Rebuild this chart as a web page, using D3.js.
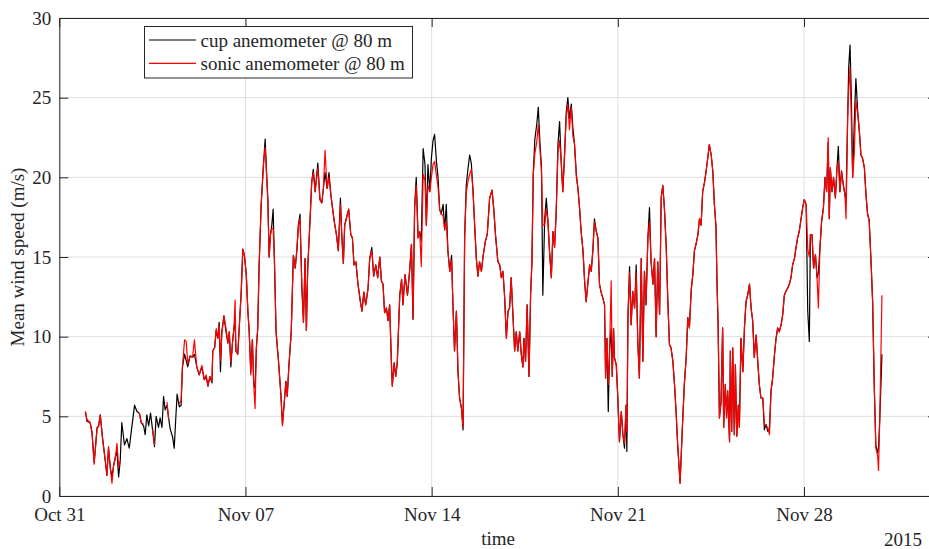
<!DOCTYPE html>
<html>
<head>
<meta charset="utf-8">
<script src="https://cdn.jsdelivr.net/npm/d3@7"></script>
<style>
  html, body { margin: 0; padding: 0; background: #fff; }
  svg { display: block; }
  svg text { font-family: "Liberation Serif", Tinos, "Times New Roman", "DejaVu Serif", serif; fill: #262626; }
</style>
</head>
<body>
<svg id="chart" width="929" height="549" font-family='"Liberation Serif", "Times New Roman", serif'></svg>
<script>
// Time stamps: days after 31 Oct 2015 00:00 (UTC)
const days = [
  0.98,1.04,1.16,1.23,1.31,1.42,1.48,1.54,1.63,1.73,1.79,1.85,1.92,1.98,2.04,2.10,2.17,2.23,2.29,
  2.35,2.45,2.54,2.63,2.71,2.83,2.92,3.01,3.08,3.17,3.23,3.29,3.36,3.43,3.51,3.58,3.64,3.73,3.79,3.86,3.92,3.98,
  4.05,4.11,4.17,4.26,4.32,4.38,4.43,4.51,4.58,4.63,4.71,4.77,4.83,4.92,5.01,5.08,5.17,5.26,5.36,5.45,5.52,5.59,5.66,5.74,5.77,5.84,5.90,5.96,
  6.01,6.06,6.11,6.19,6.26,6.34,6.39,6.45,6.51,6.57,6.61,6.64,6.71,6.76,6.84,6.90,6.96,
  7.03,7.09,7.14,7.20,7.26,7.31,7.36,7.41,7.46,7.51,7.59,7.68,7.74,7.79,7.84,7.89,7.94,7.99,
  8.04,8.09,8.15,8.24,8.33,8.39,8.45,8.52,8.57,8.63,8.72,8.80,8.87,8.93,8.99,
  9.05,9.12,9.18,9.24,9.29,9.34,9.43,9.49,9.55,9.62,9.72,9.80,9.87,9.93,9.99,
  10.07,10.14,10.21,10.27,10.34,10.42,10.49,10.57,10.62,10.68,10.73,10.79,10.88,10.96,
  11.02,11.08,11.15,11.23,11.32,11.38,11.45,11.52,11.61,11.67,11.75,11.82,11.90,11.97,
  12.05,12.11,12.17,12.23,12.30,12.36,12.42,12.49,12.52,12.59,12.65,12.71,12.80,12.87,12.92,
  13.00,13.09,13.17,13.24,13.30,13.36,13.42,13.49,13.55,13.61,13.68,13.75,13.80,13.86,13.93,13.99,
  14.05,14.11,14.18,14.24,14.30,14.36,14.43,14.49,14.55,14.61,14.68,14.75,14.80,14.86,14.93,14.99,
  15.05,15.12,15.18,15.24,15.30,15.37,15.43,15.49,15.55,15.62,15.68,15.74,15.80,15.87,15.93,
  16.02,16.09,16.18,16.27,16.34,16.40,16.49,16.56,16.62,16.68,16.74,16.81,16.87,16.93,16.99,
  17.06,17.12,17.18,17.24,17.31,17.37,17.43,17.47,17.53,17.59,17.66,17.72,17.77,17.82,17.88,17.95,
  18.01,18.07,18.13,18.18,18.25,18.31,18.37,18.43,18.50,18.56,18.62,18.68,18.75,18.81,18.87,18.93,
  19.00,19.06,19.12,19.18,19.25,19.31,19.37,19.44,19.50,19.56,19.62,19.69,19.75,19.81,19.87,19.94,
  20.00,20.06,20.12,20.19,20.25,20.31,20.37,20.44,20.50,20.54,20.59,20.64,20.69,20.75,20.79,20.84,20.87,20.94,
  21.00,21.06,21.13,21.19,21.25,21.31,21.34,21.38,21.44,21.50,21.56,21.63,21.69,21.75,21.81,21.88,21.94,
  22.00,22.06,22.13,22.19,22.25,22.32,22.38,22.44,22.50,22.57,22.63,22.69,22.75,22.82,22.88,22.94,
  23.00,23.07,23.13,23.19,23.25,23.34,23.42,23.50,23.57,23.63,23.69,23.76,23.82,23.88,23.94,
  24.01,24.07,24.13,24.19,24.26,24.32,24.38,24.44,24.51,24.57,24.63,24.69,24.73,24.77,24.82,24.88,24.94,24.98,
  25.04,25.09,25.13,25.20,25.23,25.28,25.32,25.38,25.42,25.47,25.53,25.57,25.63,25.70,25.76,25.82,25.88,25.95,
  26.01,26.07,26.13,26.20,26.26,26.32,26.38,26.45,26.51,26.57,26.64,26.70,26.76,26.82,26.89,26.95,
  27.01,27.07,27.14,27.20,27.26,27.32,27.39,27.45,27.51,27.57,27.64,27.70,27.76,27.82,27.89,27.95,
  28.01,28.08,28.14,28.20,28.24,28.30,28.36,28.43,28.49,28.54,28.60,28.66,28.73,28.79,28.85,28.91,28.95,28.99,
  29.05,29.11,29.18,29.24,29.29,29.35,29.41,29.48,29.54,29.58,29.64,29.68,29.73,29.78,29.83,29.89,29.95,
  30.02,30.08,30.14,30.20,30.27,30.33,30.39,30.45,30.52,30.58,30.64,30.70,30.77,30.80,30.85,30.93
];

// Cup anemometer, 80 m (m/s)
const cup = [
  5.3,4.7,4.6,4.0,2.1,4.3,4.4,5.1,3.6,2.2,1.3,3.0,1.75,1.2,1.9,2.4,2.8,1.2,2.2,
  4.6,3.2,3.6,3.0,4.1,5.7,5.3,5.2,4.6,4.4,3.85,5.1,4.4,5.2,4.1,3.1,5.0,4.3,4.9,4.3,6.25,5.4,
  5.7,4.9,4.2,3.7,3.0,4.9,6.4,5.6,5.7,8.1,8.9,8.5,8.1,8.8,8.7,8.9,8.1,7.6,8.1,7.3,7.5,6.9,7.5,7.1,9.1,9.3,10.4,9.9,
  10.9,7.8,10.3,11.3,10.4,9.6,10.3,8.1,9.6,10.6,11.0,9.1,8.9,10.4,12.8,15.5,15.1,
  13.9,11.6,10.3,7.8,9.8,7.0,6.8,9.3,10.5,14.3,18.3,20.9,22.4,20.4,18.7,15.0,16.4,17.0,
  18.0,14.6,10.3,8.5,6.4,4.5,5.7,7.2,6.25,8.1,10.3,15.1,14.3,15.4,17.0,
  17.7,13.1,10.9,14.9,10.4,14.3,17.4,19.7,20.5,19.1,20.9,18.6,18.4,19.3,20.3,
  19.3,20.3,18.9,18.1,17.2,16.4,15.4,18.7,16.4,14.6,17.0,17.4,18.0,16.4,
  16.2,14.5,14.7,13.3,12.2,11.6,12.8,12.0,13.05,14.9,15.6,13.8,14.5,13.7,
  15.0,13.5,13.3,11.5,11.8,11.0,12.0,8.2,6.9,8.35,7.5,8.45,12.6,13.6,12.0,
  13.9,12.6,14.1,15.8,11.1,18.1,20.0,16.2,16.6,16.0,21.8,20.8,17.0,20.8,19.1,21.2,
  22.3,22.7,21.0,20.0,18.0,17.7,18.3,16.7,18.3,15.4,14.1,15.1,12.0,9.1,11.6,7.8,
  6.15,5.5,4.15,16.2,19.5,20.6,21.4,20.9,19.3,16.9,14.9,13.8,14.7,14.1,15.0,
  16.0,16.4,18.7,19.2,17.9,16.4,14.7,14.5,13.7,14.1,12.6,9.9,11.6,11.8,13.7,
  11.2,9.1,10.3,9.1,10.3,8.9,8.1,9.9,8.45,12.0,7.5,12.6,14.7,20.2,22.4,23.3,
  24.4,22.2,20.6,12.6,17.4,18.7,17.3,15.4,13.7,16.6,15.6,17.7,22.1,23.5,21.0,19.1,
  21.6,24.1,25.0,23.7,24.6,23.1,22.1,20.2,19.3,18.1,16.6,15.4,13.5,12.2,13.3,14.5,
  14.1,15.4,17.4,16.6,16.2,13.3,12.8,12.4,12.0,7.4,9.9,5.3,9.1,10.5,7.5,10.5,8.7,8.25,
  6.15,3.4,5.3,3.85,3.0,5.7,2.8,11.2,14.4,10.75,12.85,11.8,14.5,9.7,7.4,14.9,8.45,
  14.1,12.0,16.2,18.1,14.7,13.3,14.9,10.0,14.7,11.4,18.7,19.5,18.1,15.6,12.2,9.5,
  9.3,8.45,7.0,5.3,3.2,0.8,4.05,7.0,8.7,11.2,10.55,12.95,13.9,15.4,15.8,
  16.4,17.4,17.0,19.1,19.7,20.4,21.2,22.05,21.4,20.4,18.3,16.9,13.3,10.75,4.9,5.9,10.55,4.3,
  7.0,4.9,6.6,3.4,9.1,4.05,9.3,3.85,8.25,3.75,5.7,4.3,9.9,7.8,10.55,12.2,12.6,13.3,
  11.8,11.0,8.7,10.1,8.45,7.0,6.15,6.15,4.15,4.5,4.05,4.2,6.6,7.4,8.9,9.9,
  10.55,10.3,10.75,11.4,12.6,12.85,13.05,13.3,13.7,14.5,14.9,15.6,16.2,16.6,17.4,18.1,
  18.6,18.3,11.6,9.7,16.4,16.4,14.3,15.15,13.7,14.0,15.6,17.2,18.1,20.0,19.1,22.2,17.4,20.6,
  19.1,20.0,18.7,20.6,21.95,19.1,20.4,19.5,18.9,18.5,23.7,26.9,28.3,25.0,20.0,23.5,26.2,
  24.1,22.9,21.4,21.2,20.6,18.9,17.7,17.3,14.7,12.2,7.0,3.2,2.7,3.0,4.9,8.9
];

// Sonic anemometer, 80 m (m/s); null where no sonic record
const sonic = [
  5.3,4.8,4.6,4.0,2.0,4.2,4.4,5.1,3.5,2.2,1.3,3.1,1.7,0.8,1.9,2.3,3.3,1.8,2.2,
  null,null,null,null,null,null,null,5.2,4.6,4.5,null,null,null,null,4.2,3.2,null,null,null,null,null,null,
  5.9,4.8,null,null,null,null,null,5.8,6.0,8.1,9.8,9.7,8.3,8.8,8.7,9.8,8.1,7.6,8.2,7.3,7.6,6.9,7.5,7.2,9.1,9.3,10.5,9.9,
  10.7,8.5,10.2,11.3,10.6,9.6,10.3,8.4,9.6,10.6,12.3,9.1,8.9,10.4,12.8,15.5,15.1,
  13.9,11.6,10.3,7.6,9.8,7.0,5.5,9.3,10.5,14.3,18.3,20.9,21.9,20.2,18.5,15.0,16.4,16.8,
  16.8,14.8,10.3,8.5,6.4,4.4,5.7,7.2,6.25,8.1,10.3,15.1,14.3,15.4,17.0,
  17.4,13.1,10.9,14.9,10.4,14.3,17.4,19.7,20.3,19.1,20.6,18.6,18.4,19.3,21.7,
  19.3,20.0,18.9,18.1,17.2,16.4,15.4,18.3,16.4,14.6,17.0,17.4,18.0,16.4,
  16.2,14.5,14.7,13.3,12.2,11.6,12.8,12.0,13.05,14.9,15.4,13.8,14.5,13.7,
  15.0,13.5,13.3,11.5,11.8,11.0,12.0,8.2,6.9,8.35,7.5,8.45,12.6,13.6,12.0,
  13.9,12.6,14.1,15.8,11.1,18.1,19.5,16.2,16.6,14.4,20.2,19.8,17.0,19.5,19.1,20.0,
  20.8,21.0,20.1,19.4,18.0,17.7,17.6,16.7,17.2,15.4,14.1,14.8,12.0,9.1,11.6,7.8,
  6.15,5.5,4.3,16.2,19.0,19.8,20.2,20.5,19.3,16.9,14.9,13.8,14.7,14.1,15.0,
  16.0,16.4,18.7,19.2,17.9,16.4,14.7,14.5,13.7,14.1,12.6,9.9,11.6,11.8,13.7,
  11.2,9.1,10.3,9.1,10.3,8.9,8.1,9.9,8.45,12.0,7.5,12.6,14.7,20.2,21.5,22.2,
  23.3,21.8,20.3,17.0,17.0,18.0,17.3,15.4,13.7,16.6,15.6,17.7,21.6,22.3,21.0,19.1,
  21.4,23.8,24.6,23.0,24.4,22.6,22.1,20.0,19.3,18.1,16.6,15.4,13.5,12.2,13.3,14.5,
  14.1,15.4,17.2,16.6,16.2,13.3,12.8,12.4,12.0,7.4,9.9,7.0,9.1,13.5,7.5,10.5,8.7,8.25,
  6.15,3.4,5.3,3.85,3.3,5.7,4.0,11.2,14.0,10.75,12.85,11.8,14.0,9.7,7.4,14.9,8.45,
  14.1,12.0,16.2,17.2,14.7,13.3,14.9,10.0,14.7,11.4,18.7,19.5,18.1,15.6,12.2,9.5,
  9.3,8.45,7.0,5.3,3.2,0.8,4.05,7.0,8.7,11.2,10.55,12.95,13.9,15.4,15.8,
  16.4,17.4,17.0,19.1,19.7,20.4,21.2,22.05,21.4,20.4,18.3,16.9,13.3,10.75,4.9,5.9,10.55,4.3,
  7.0,4.9,6.6,3.4,9.1,4.05,9.3,3.85,8.25,3.75,5.7,4.3,9.9,7.8,10.55,12.2,12.6,13.3,
  11.8,11.0,8.7,10.1,8.45,7.0,6.15,6.15,4.5,4.4,4.3,3.85,6.6,7.4,8.9,9.9,
  10.55,10.3,10.75,11.4,12.6,12.85,13.05,13.3,13.7,14.5,14.9,15.6,16.2,16.6,17.4,18.1,
  18.6,18.3,15.5,15.0,16.4,16.4,14.3,15.15,13.7,11.8,15.6,17.2,18.1,20.0,19.1,22.5,17.4,20.6,
  19.1,20.0,18.7,20.6,21.0,19.1,20.4,19.5,18.9,17.4,23.7,25.5,26.9,23.5,20.0,21.5,24.8,
  24.0,22.9,21.4,21.2,20.6,18.9,17.7,17.3,14.7,12.2,7.0,3.0,2.5,1.6,5.0,12.6
];

// Axis ticks and labels
const yTicks = [0, 5, 10, 15, 20, 25, 30];
const xTickDays = [0, 7, 14, 21, 28];
const seriesNames = ["cup anemometer @ 80 m", "sonic anemometer @ 80 m"];
const seriesColors = ["#000000", "#ff0000"];
const xLabel = "time";
const yLabel = "Mean wind speed (m/s)";
const yearLabel = "2015";

const t0 = Date.UTC(2015, 9, 31);
const toDate = d => new Date(t0 + d * 864e5);

const svg = d3.select("#chart");
const plotL = 59.3, plotR = 937, plotT = 18, plotB = 496;
const axisColor = "#262626";
const fontSize = 19;
const serif = '"Liberation Serif", Tinos, "Times New Roman", "DejaVu Serif", serif';

const x = d3.scaleUtc().domain([toDate(0), toDate(33)]).range([plotL, plotR]);
const y = d3.scaleLinear().domain([0, 30]).range([plotB, plotT]);
const xTicks = xTickDays.map(toDate);

svg.append("rect").attr("width", 929).attr("height", 549).attr("fill", "#fff");

// grid
const grid = svg.append("g").attr("stroke", "#dfdfdf").attr("stroke-width", 1);
grid.selectAll("line.gx").data(xTicks).join("line").attr("class", "gx")
  .attr("x1", d => x(d)).attr("x2", d => x(d)).attr("y1", plotT).attr("y2", plotB);
grid.selectAll("line.gy").data(yTicks).join("line").attr("class", "gy")
  .attr("x1", plotL).attr("x2", plotR).attr("y1", d => y(d)).attr("y2", d => y(d));

// series
const plot = svg.append("g");
const mk = vals => days.map((d, i) => ({ t: toDate(d), v: vals[i] }));
const line = d3.line().defined(p => p.v != null).x(p => x(p.t)).y(p => y(p.v));
plot.append("path").datum(mk(cup)).attr("d", line)
  .attr("fill", "none").attr("stroke", seriesColors[0]).attr("stroke-width", 1.2).attr("stroke-linejoin", "round");
plot.append("path").datum(mk(sonic)).attr("d", line)
  .attr("fill", "none").attr("stroke", seriesColors[1]).attr("stroke-width", 1.2).attr("stroke-linejoin", "round");

// axes (ticks pointing inward, box around plot)
const styleAxis = g => {
  g.attr("font-family", serif).attr("font-size", fontSize);
  g.selectAll(".domain").attr("stroke", axisColor).attr("stroke-width", 1);
  g.selectAll(".tick line").attr("stroke", axisColor).attr("stroke-width", 1);
  g.selectAll("text").attr("fill", axisColor);
};
svg.append("g").attr("transform", `translate(0,${plotB})`)
  .call(d3.axisBottom(x).tickValues(xTicks).tickFormat(d3.utcFormat("%b %d"))
    .tickSize(-9).tickSizeOuter(0).tickPadding(11.5))
  .call(styleAxis);
svg.append("g").attr("transform", `translate(0,${plotT})`)
  .call(d3.axisTop(x).tickValues(xTicks).tickFormat("").tickSize(-9).tickSizeOuter(0))
  .call(styleAxis);
svg.append("g").attr("transform", `translate(${plotL},0)`)
  .call(d3.axisLeft(y).tickValues(yTicks).tickSize(-9).tickSizeOuter(0).tickPadding(8))
  .call(styleAxis);
svg.append("g").attr("transform", `translate(${plotR},0)`)
  .call(d3.axisRight(y).tickValues(yTicks).tickFormat("").tickSize(-9).tickSizeOuter(0))
  .call(styleAxis);

// axis titles
const label = (sel) => sel.attr("font-family", serif).attr("font-size", fontSize).attr("fill", axisColor);
svg.append("text").attr("x", (plotL + plotR) / 2).attr("y", 545)
  .attr("text-anchor", "middle").call(label).text(xLabel);
svg.append("text").attr("x", 922).attr("y", 546)
  .attr("text-anchor", "end").call(label).text(yearLabel);
svg.append("text").attr("transform", `translate(24,${(plotT + plotB) / 2}) rotate(-90)`)
  .attr("text-anchor", "middle").call(label).text(yLabel);

// legend
const lg = svg.append("g");
lg.append("rect").attr("x", 144.5).attr("y", 26.5).attr("width", 268).attr("height", 51.5)
  .attr("fill", "#fff").attr("stroke", axisColor).attr("stroke-width", 1);
seriesNames.forEach((name, i) => {
  const ly = 40 + i * 23.3;
  lg.append("line").attr("x1", 149).attr("x2", 196).attr("y1", ly).attr("y2", ly)
    .attr("stroke", seriesColors[i]).attr("stroke-width", 1.2);
  lg.append("text").attr("x", 200.5).attr("y", ly + 6.7).call(label).text(name);
});
</script>
</body>
</html>
